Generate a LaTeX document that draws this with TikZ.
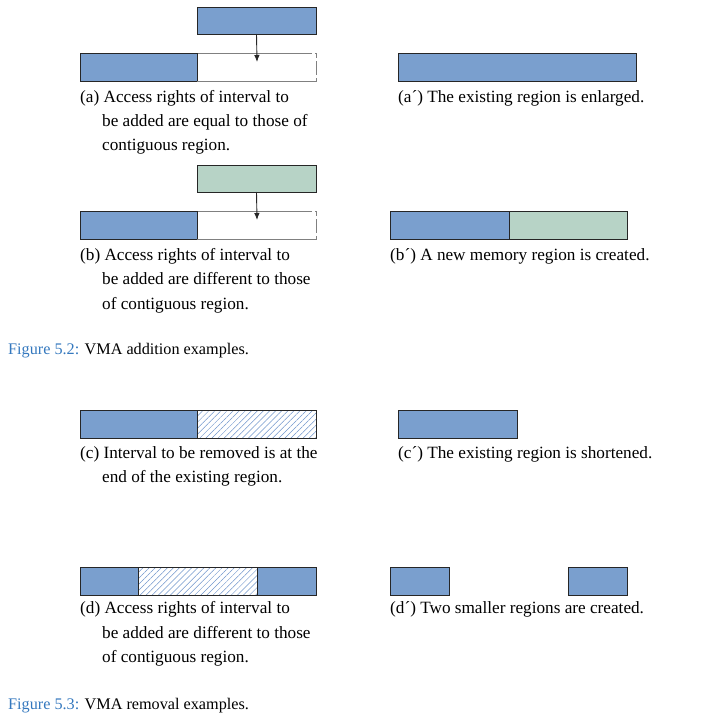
\documentclass[tikz,border=0pt]{standalone}
\usepackage{fontspec}
\setmainfont{Liberation Serif}
\usetikzlibrary{arrows.meta,patterns.meta}
\definecolor{regblue}{HTML}{7A9FCE}
\definecolor{reggreen}{HTML}{B7D3C6}
\definecolor{hatchblue}{HTML}{6F95CB}
\definecolor{capblue}{RGB}{52,120,190}
\tikzset{
  box/.style={draw=black!85, line width=0.8pt, inner sep=0pt, outer sep=0pt, anchor=north west, minimum height=28pt},
  bluebox/.style={box, fill=regblue},
  greenbox/.style={box, fill=reggreen},
  gapbox/.style={draw=none, inner sep=0pt, outer sep=0pt, anchor=north west, minimum height=28pt, fill=white},
  gapline/.style={draw=black!50, line width=0.8pt, dash pattern=on 115pt off 3pt on 6pt off 3pt on 14pt off 3pt on 300pt},
  hatchbox/.style={box, pattern={Lines[angle=45,distance=4.3pt,line width=0.5pt]}, pattern color=hatchblue},
  txt/.style={anchor=base west, inner sep=0pt, font=\fontsize{17.2}{20}\selectfont},
  figcap/.style={anchor=base west, inner sep=0pt, font=\fontsize{16.2}{19}\selectfont},
  arr/.style={-{Latex[length=7pt,width=5.5pt]}, line width=0.9pt, draw=black!85}
}
\begin{document}
\begin{tikzpicture}[x=1pt,y=-1pt]
\useasboundingbox (0,0) rectangle (711,723);
% (a)
\node[bluebox, minimum width=119pt, minimum height=27pt] (srca) at (197,7) {};
\node[bluebox, minimum width=117pt] (aleft) at (80,53) {};
\node[gapbox, minimum width=119pt] (agap) at (197,53) {};
\draw[gapline] (agap.north west) -- (agap.north east) -- (agap.south east) -- (agap.south west);
\draw[black!85, line width=0.8pt] (aleft.north east) -- (aleft.south east);
\coordinate (aend) at (257,62);
\draw[arr] (srca.south) -- (aend);
\node[bluebox, minimum width=238pt] (aprime) at (398,53) {};
\node[txt] (ta1) at (80,102) {(a) Access rights of interval to};
\node[txt] (ta2) at (102,126) {be added are equal to those of};
\node[txt] (ta3) at (102,150) {contiguous region.};
\node[txt] (tap) at (398,102) {(a´) The existing region is enlarged.};
% (b)
\node[greenbox, minimum width=119pt, minimum height=27pt] (srcb) at (197,165) {};
\node[bluebox, minimum width=117pt] (bleft) at (80,211) {};
\node[gapbox, minimum width=119pt] (bgap) at (197,211) {};
\draw[gapline] (bgap.north west) -- (bgap.north east) -- (bgap.south east) -- (bgap.south west);
\draw[black!85, line width=0.8pt] (bleft.north east) -- (bleft.south east);
\coordinate (bend) at (257,220);
\draw[arr] (srcb.south) -- (bend);
\node[bluebox, minimum width=119pt] (bp1) at (390,211) {};
\node[greenbox, minimum width=118pt] (bp2) at (509,211) {};
\node[txt] (tb1) at (80,260) {(b) Access rights of interval to};
\node[txt] (tb2) at (102,284) {be added are different to those};
\node[txt] (tb3) at (102,309) {of contiguous region.};
\node[txt] (tbp) at (390,260) {(b´) A new memory region is created.};
\node[figcap] (fig52) at (8,354) {\textcolor{capblue}{Figure 5.2:} VMA addition examples.};
% (c)
\node[bluebox, minimum width=117pt] (cleft) at (80,410) {};
\node[hatchbox, minimum width=119pt] (chatch) at (197,410) {};
\node[bluebox, minimum width=119pt] (cp) at (398,410) {};
\node[txt] (tc1) at (80,458) {(c) Interval to be removed is at the};
\node[txt] (tc2) at (102,482) {end of the existing region.};
\node[txt] (tcp) at (398,458) {(c´) The existing region is shortened.};
% (d)
\node[bluebox, minimum width=58pt] (d1) at (80,567) {};
\node[hatchbox, minimum width=119pt] (dhatch) at (138,567) {};
\node[bluebox, minimum width=59pt] (d3) at (257,567) {};
\node[bluebox, minimum width=59pt] (dp1) at (390,567) {};
\node[bluebox, minimum width=59pt] (dp2) at (568,567) {};
\node[txt] (td1) at (80,613) {(d) Access rights of interval to};
\node[txt] (td2) at (102,638) {be added are different to those};
\node[txt] (td3) at (102,662) {of contiguous region.};
\node[txt] (tdp) at (390,613) {(d´) Two smaller regions are created.};
\node[figcap] (fig53) at (8,709) {\textcolor{capblue}{Figure 5.3:} VMA removal examples.};
\end{tikzpicture}
\end{document}
